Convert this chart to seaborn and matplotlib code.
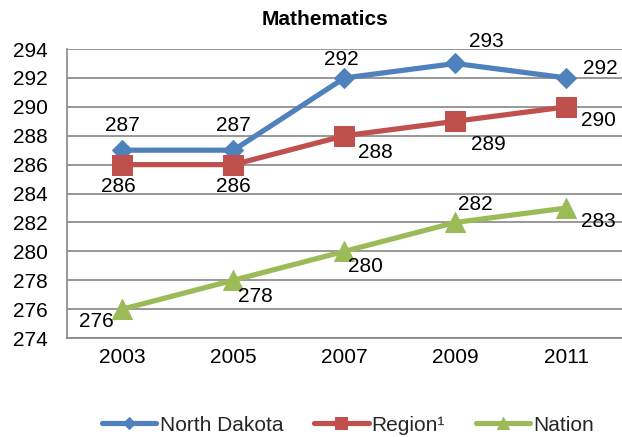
import seaborn as sns
import matplotlib.pyplot as plt
import pandas as pd
import numpy as np

years = ['2003', '2005', '2007', '2009', '2011']
north_dakota = [287, 287, 292, 293, 292]
region = [286, 286, 288, 289, 290]
nation = [276, 278, 280, 282, 283]

series_names = ['North Dakota', 'Region\u00b9', 'Nation']
colors = ['#4F81BD', '#C0504D', '#9BBB59']
markers = ['D', 's', '^']
marker_sizes = [10, 14, 15]

# label offsets in points (dx, dy) for each series/point
offsets = [
    [(0, 18), (0, 18), (-2, 13), (22, 16), (24, 7)],
    [(-3, -16), (0, -16), (22, -12), (24, -17), (23, -10)],
    [(-19, -9), (16, -12), (15, -11), (14, 13), (23, -10)],
]

sns.set_style('white')
plt.rcParams['font.family'] = ['Liberation Sans', 'DejaVu Sans']

df = pd.DataFrame({
    'pos': list(range(len(years))) * 3,
    'score': north_dakota + region + nation,
    'series': sum([[n] * len(years) for n in series_names], []),
})

fig = plt.figure(figsize=(6.22, 4.37), dpi=100)
ax = fig.add_axes([0.1077, 0.2265, 0.8923, 0.6613])

for i, name in enumerate(series_names):
    sub = df[df['series'] == name]
    sns.lineplot(data=sub, x='pos', y='score', ax=ax, color=colors[i],
                 linewidth=3.75, marker=markers[i], markersize=marker_sizes[i],
                 markeredgecolor=colors[i], label=name, legend=False)
    for j, (x, y) in enumerate(zip(sub['pos'], sub['score'])):
        dx, dy = offsets[i][j]
        ax.annotate(str(y), (x, y), xytext=(dx, dy), textcoords='offset points',
                    ha='center', va='center', fontsize=15, color='black')

ax.set_xlim(-0.5, len(years) - 0.5)
ax.set_ylim(274, 294)
ax.set_yticks(np.arange(274, 295, 2))
ax.set_xticks(range(len(years)))
ax.set_xticklabels(years)
ax.set_xticks(np.arange(-0.5, len(years), 1), minor=True)
ax.tick_params(axis='x', which='major', length=0, labelsize=15, pad=7, labelcolor='black')
ax.tick_params(axis='x', which='minor', length=5, color='#868686', direction='out')
ax.tick_params(axis='y', length=5, color='#868686', direction='out', labelsize=15,
               pad=9, labelcolor='black')
ax.grid(axis='y', color='#868686', linewidth=1.2)
ax.set_axisbelow(True)
for s in ['top', 'right']:
    ax.spines[s].set_visible(False)
for s in ['left', 'bottom']:
    ax.spines[s].set_color('#868686')
    ax.spines[s].set_linewidth(1.2)
ax.set_xlabel('')
ax.set_ylabel('')
ax.set_title('Mathematics', fontsize=15, fontweight='bold', pad=17, color='black', x=0.465)

handles, labels = ax.get_legend_handles_labels()
fig.legend(handles, labels, loc='center', bbox_to_anchor=(0.56, 0.027), ncol=3,
           frameon=False, fontsize=15, handlelength=2.6, handletextpad=0.15,
           columnspacing=1.5, markerscale=0.6, borderpad=0)

fig.savefig('out.png', dpi=100)
